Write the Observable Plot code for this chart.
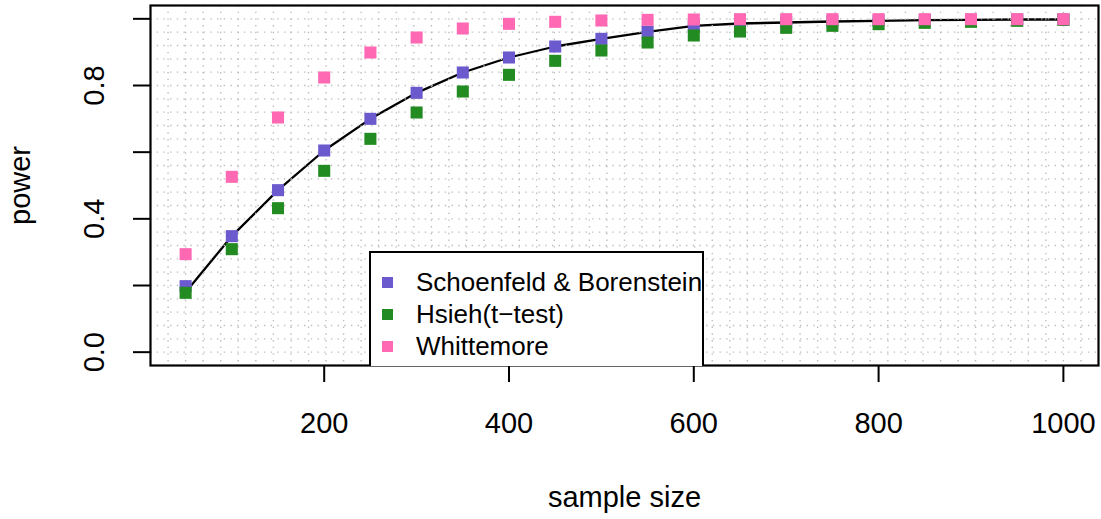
<!DOCTYPE html>
<html>
<head>
<meta charset="utf-8">
<script src="https://cdn.jsdelivr.net/npm/d3@7"></script>
<script src="https://cdn.jsdelivr.net/npm/@observablehq/plot@0.6"></script>
<style>
  body { margin: 0; background: #fff; }
  #wrap { position: relative; width: 1101px; height: 519px; font-family: "Liberation Sans", Arial, Helvetica, sans-serif; }
  #wrap svg { display: block; }
  .legend { position: absolute; background: #fff; border: 2px solid #000; border-bottom: none; box-sizing: border-box; }
  .legend .sw { position: absolute; width: 11px; height: 11px; }
  .legend .lb { position: absolute; height: 30px; line-height: 30px; font-size: 26px; white-space: nowrap; color: #000; }
</style>
</head>
<body>
<div id="wrap"></div>
<script>
// ---- data ----
const sampleSize = [50, 100, 150, 200, 250, 300, 350, 400, 450, 500, 550, 600, 650, 700, 750, 800, 850, 900, 950, 1000];
const schoenfeld = [0.198, 0.348, 0.486, 0.605, 0.700, 0.778, 0.839, 0.884, 0.917, 0.940, 0.961, 0.979, 0.987, 0.990, 0.993, 0.995, 0.996, 0.997, 0.998, 0.998];
const hsieh      = [0.178, 0.309, 0.432, 0.544, 0.640, 0.719, 0.782, 0.832, 0.874, 0.905, 0.929, 0.950, 0.962, 0.973, 0.979, 0.984, 0.988, 0.991, 0.994, 0.997];
const whittemore = [0.294, 0.526, 0.704, 0.824, 0.899, 0.944, 0.971, 0.985, 0.991, 0.995, 0.997, 0.998, 0.999, 0.999, 0.999, 0.999, 0.999, 0.999, 0.999, 0.999];
const curve      = [0.180, 0.348, 0.486, 0.605, 0.700, 0.778, 0.839, 0.884, 0.917, 0.940, 0.961, 0.979, 0.986, 0.989, 0.992, 0.994, 0.996, 0.997, 0.998, 0.998];

const seriesNames  = ["Schoenfeld & Borenstein", "Hsieh(t\u2212test)", "Whittemore"];
const seriesColors = ["#6A5ACD", "#228B22", "#FF69B4"];
const seriesValues = [schoenfeld, hsieh, whittemore];

const xTicks = [200, 400, 600, 800, 1000];
const yTicks = [0, 0.2, 0.4, 0.6, 0.8, 1.0];
const yLabelTicks = [0, 0.4, 0.8];
const xTitle = "sample size";
const yTitle = "power";
const legendAt = {x: 250, y: 0.3, xEnd: 610};

// ---- layout (R-style 4% extension) ----
const xDomain = [12, 1038];
const yDomain = [-0.04, 1.04];
const gridY = d3.range(1, 27).map(k => yDomain[0] + k * (yDomain[1] - yDomain[0]) / 27);
const gridX = d3.range(1, 54).map(k => xDomain[0] + k * (xDomain[1] - xDomain[0]) / 54);

const points = [];
seriesValues.forEach((vals, s) => vals.forEach((v, i) => points.push({series: s, n: sampleSize[i], p: v})));

const FS = 29;
const gridStyle = {stroke: "#bdbdbd", strokeWidth: 1.4, strokeDasharray: "1.4,5.3"};
const plot = Plot.plot({
  width: 1101,
  height: 519,
  marginLeft: 150,
  marginRight: 3,
  marginTop: 5,
  marginBottom: 154,
  style: {fontFamily: '"Liberation Sans", Arial, sans-serif', color: "#000", background: "#fff"},
  x: {domain: xDomain},
  y: {domain: yDomain},
  marks: [
    Plot.line(sampleSize.map((n, i) => ({n, p: curve[i]})), {x: "n", y: "p", stroke: "#000", strokeWidth: 2.3}),
    Plot.ruleY(gridY, gridStyle),
    Plot.ruleX(gridX, gridStyle),
    ...[0, 1, 2].map(s => Plot.dot(points.filter(d => d.series === s), {
      x: "n", y: "p", symbol: "square", r: 6.8, fill: seriesColors[s], stroke: "none"
    })),
    Plot.frame({stroke: "#000", strokeWidth: 2.2}),
    Plot.axisX({ticks: xTicks, tickSize: 17, tickFormat: () => "", label: null, strokeWidth: 2}),
    Plot.axisY({ticks: yTicks, tickSize: 17, tickFormat: () => "", label: null, strokeWidth: 2}),
    Plot.text(xTicks, {x: d => d, text: d => String(d), frameAnchor: "bottom", dy: 58, lineAnchor: "middle", textAnchor: "middle", fontSize: FS}),
    Plot.text(yLabelTicks, {y: d => d, text: d => d3.format(".1f")(d), frameAnchor: "left", dx: -56, rotate: -90, lineAnchor: "middle", textAnchor: "middle", fontSize: FS}),
    Plot.text([xTitle], {text: d => d, frameAnchor: "bottom", dy: 132, lineAnchor: "middle", textAnchor: "middle", fontSize: FS}),
    Plot.text([yTitle], {text: d => d, frameAnchor: "left", dx: -130, rotate: -90, lineAnchor: "middle", textAnchor: "middle", fontSize: FS})
  ]
});

const wrap = document.getElementById("wrap");
wrap.appendChild(plot);

// ---- legend, placed in data coordinates like R's legend(x, y, ...) and clipped at plot bottom ----
const sx = plot.scale("x"), sy = plot.scale("y");
const L = sx.apply(legendAt.x), T = sy.apply(legendAt.y), R = sx.apply(legendAt.xEnd), B = sy.apply(yDomain[0]) + 1.5;
const lg = document.createElement("div");
lg.className = "legend";
lg.style.left = (L - 1) + "px";
lg.style.top = (T - 1) + "px";
lg.style.width = (R - L + 2) + "px";
lg.style.height = (B - T + 1) + "px";
seriesNames.forEach((name, i) => {
  const cy = 30 + i * 32;
  const sw = document.createElement("div");
  sw.className = "sw";
  sw.style.background = seriesColors[i];
  sw.style.left = (17 - 5.5) + "px";
  sw.style.top = (cy - 5.5) + "px";
  lg.appendChild(sw);
  const lb = document.createElement("div");
  lb.className = "lb";
  lb.textContent = name;
  lb.style.left = "45px";
  lb.style.top = (cy - 16) + "px";
  lg.appendChild(lb);
});
wrap.appendChild(lg);
</script>
</body>
</html>
